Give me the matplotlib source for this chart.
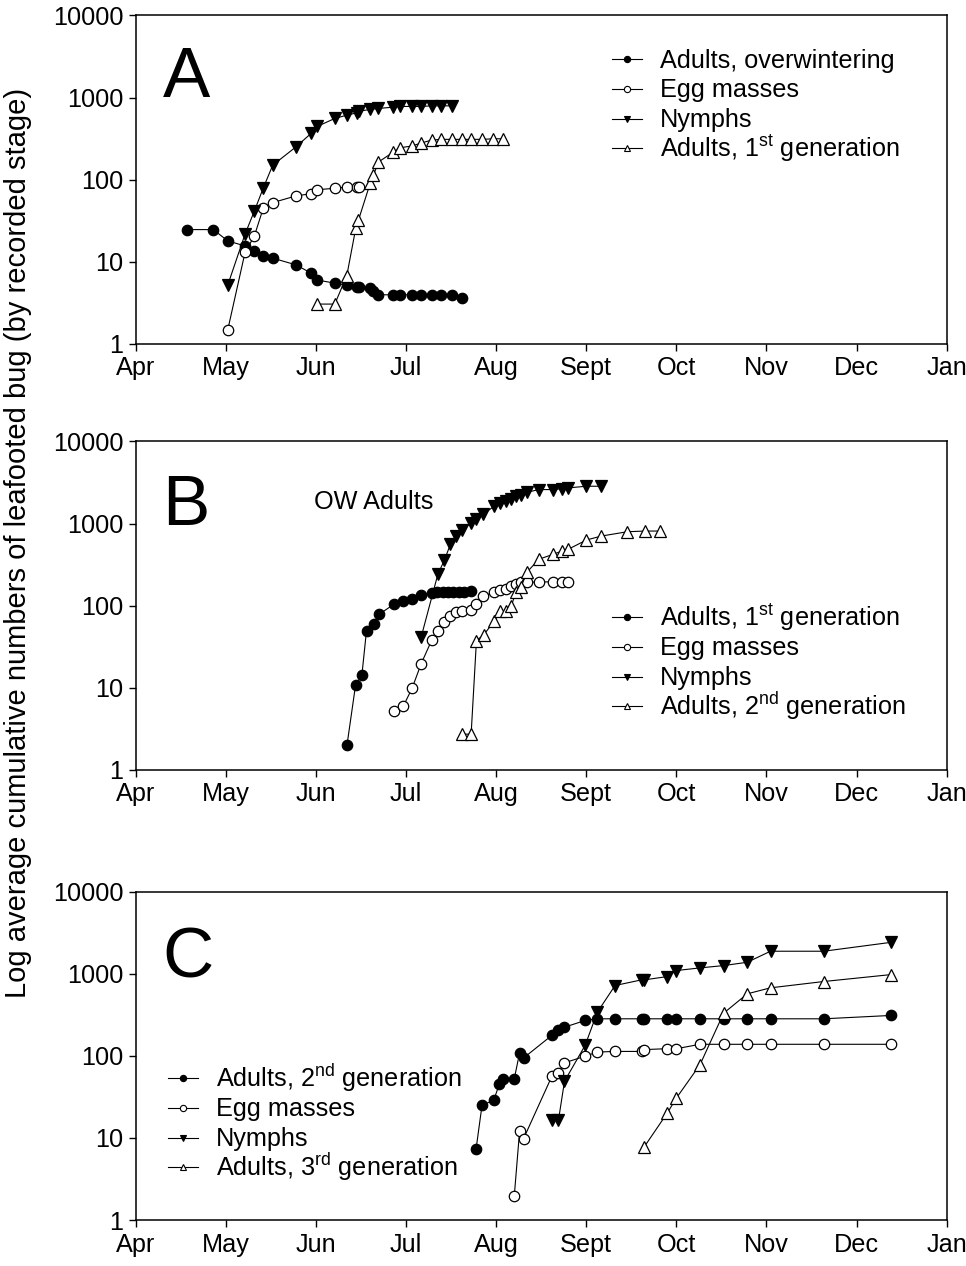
import matplotlib
matplotlib.use("Agg")
import matplotlib.pyplot as plt

plt.rcParams['font.family'] = ['Liberation Sans', 'DejaVu Sans']
plt.rcParams['mathtext.fontset'] = 'custom'
plt.rcParams['mathtext.rm'] = 'Liberation Sans'
plt.rcParams['mathtext.it'] = 'Liberation Sans:italic'

# x values are months (4 = Apr 1, 13 = Jan 1)
month_ticks = [4, 5, 6, 7, 8, 9, 10, 11, 12, 13]
month_labels = ['Apr', 'May', 'Jun', 'Jul', 'Aug', 'Sept', 'Oct', 'Nov', 'Dec', 'Jan']

# Panel A
a_adult_x = [4.567, 4.862, 5.022, 5.214, 5.318, 5.418, 5.521, 5.777, 5.947, 6.017, 6.210, 6.343, 6.454,
             6.483, 6.602, 6.631, 6.694, 6.860, 6.934, 7.064, 7.167, 7.286, 7.390, 7.515, 7.626]
a_adult_y = [24.7, 24.7, 18, 15.6, 13.6, 11.8, 11.1, 9.2, 7.3, 6.0, 5.5, 5.2, 5.0,
             5.0, 4.87, 4.36, 3.97, 3.97, 3.97, 3.97, 3.97, 3.97, 3.97, 3.97, 3.62]
a_egg_x = [5.022, 5.214, 5.318, 5.418, 5.521, 5.777, 5.947, 6.017, 6.210, 6.343, 6.454, 6.483]
a_egg_y = [1.48, 13, 20.7, 45.7, 52.6, 63.4, 67.6, 75.6, 78.6, 81.5, 81.5, 81.5]
a_nymph_x = [5.022, 5.214, 5.318, 5.418, 5.521, 5.777, 5.947, 6.017, 6.210, 6.343, 6.454,
             6.483, 6.602, 6.694, 6.860, 6.934, 7.064, 7.167, 7.286, 7.390, 7.515]
a_nymph_y = [5.2, 21.7, 41.7, 80, 150, 250, 366, 446, 557, 611, 652,
             684, 717, 737, 765, 780, 780, 780, 793, 793, 793]
a_gen_x = [6.017, 6.210, 6.343, 6.443, 6.472, 6.602, 6.639, 6.694, 6.860, 6.934,
           7.064, 7.167, 7.286, 7.390, 7.508, 7.619, 7.723, 7.841, 7.971, 8.082]
a_gen_y = [3.06, 3.06, 6.76, 25.7, 32, 90, 113, 164, 217, 245,
           257, 279, 304, 310, 310, 310, 310, 310, 315, 315]

# Panel B
b_adult_x = [6.345, 6.440, 6.511, 6.562, 6.646, 6.705, 6.871, 6.970, 7.069, 7.168, 7.287,
             7.347, 7.406, 7.465, 7.525, 7.584, 7.644, 7.723]
b_adult_y = [1.99, 10.7, 14.4, 49.8, 60, 79, 105, 115, 120, 135, 142,
             145, 145, 145, 148, 148, 148, 152]
b_egg_x = [6.871, 6.970, 7.069, 7.168, 7.287, 7.354, 7.426, 7.493, 7.556, 7.624, 7.723, 7.782,
           7.853, 7.980, 8.048, 8.111, 8.170, 8.218, 8.277, 8.345, 8.475, 8.634, 8.733, 8.800]
b_egg_y = [5.24, 5.97, 9.95, 19.6, 38.4, 48.9, 62.8, 74.3, 83, 85.4, 89.5, 105,
           130, 145, 156, 162, 175, 183, 192, 192, 195, 195, 195, 195]
b_nymph_x = [7.168, 7.354, 7.426, 7.493, 7.556, 7.624, 7.723, 7.782, 7.853, 7.980, 8.048,
             8.111, 8.170, 8.218, 8.277, 8.345, 8.475, 8.634, 8.733, 8.800, 9.002, 9.168]
b_nymph_y = [41.3, 242, 358, 559, 705, 826, 1023, 1124, 1291, 1630, 1790,
             1910, 2018, 2154, 2259, 2410, 2595, 2595, 2668, 2720, 2850, 2850]
b_gen_x = [7.624, 7.723, 7.782, 7.861, 7.980, 8.048, 8.111, 8.170, 8.218, 8.277,
           8.345, 8.475, 8.634, 8.733, 8.800, 9.002, 9.168, 9.457, 9.651, 9.822]
b_gen_y = [2.73, 2.73, 37.7, 44.1, 64.6, 85.4, 87, 100, 145, 170,
           258, 368, 423, 464, 486, 631, 705, 796, 811, 811]

# Panel C
c_adult_x = [7.778, 7.844, 7.973, 8.036, 8.073, 8.202, 8.261, 8.305, 8.618, 8.692, 8.759, 8.988,
             9.124, 9.320, 9.614, 9.644, 9.902, 10.001, 10.263, 10.525, 10.787, 11.045, 11.635, 12.387]
c_adult_y = [7.36, 25, 28.7, 45, 51.7, 52.6, 109, 94, 177, 204, 223, 269,
             282, 282, 282, 282, 282, 282, 282, 282, 282, 282, 282, 310]
c_egg_x = [8.202, 8.261, 8.305, 8.618, 8.692, 8.759, 8.988, 9.124, 9.320, 9.614, 9.644,
           9.902, 10.001, 10.263, 10.525, 10.787, 11.045, 11.635, 12.387]
c_egg_y = [1.98, 12.2, 9.8, 56, 62, 82, 99, 111, 113, 113, 119,
           122, 122, 138, 138, 138, 138, 138, 138]
c_nymph_x = [8.618, 8.692, 8.759, 8.988, 9.124, 9.320, 9.614, 9.644, 9.902, 10.001,
             10.263, 10.525, 10.787, 11.045, 11.635, 12.387]
c_nymph_y = [16.4, 16.4, 49, 134, 340, 717, 840, 840, 922, 1091,
             1175, 1254, 1376, 1875, 1875, 2409]
c_gen_x = [9.644, 9.902, 10.001, 10.263, 10.525, 10.787, 11.045, 11.635, 12.387]
c_gen_y = [7.78, 20.3, 30.6, 78, 330, 568, 672, 802, 975]

# legend anchor: (left of handle, centre of first row) in axes fractions
panels = [
    dict(letter='A', series=[(a_adult_x, a_adult_y), (a_egg_x, a_egg_y), (a_nymph_x, a_nymph_y), (a_gen_x, a_gen_y)],
         labels=['Adults, overwintering', 'Egg masses', 'Nymphs', r'Adults, 1$^{\rm st}$ generation'],
         legend_at=(0.5874, 0.867), letter_y=0.752),
    dict(letter='B', series=[(b_adult_x, b_adult_y), (b_egg_x, b_egg_y), (b_nymph_x, b_nymph_y), (b_gen_x, b_gen_y)],
         labels=[r'Adults, 1$^{\rm st}$ generation', 'Egg masses', 'Nymphs', r'Adults, 2$^{\rm nd}$ generation'],
         legend_at=(0.5874, 0.465), letter_y=0.745),
    dict(letter='C', series=[(c_adult_x, c_adult_y), (c_egg_x, c_egg_y), (c_nymph_x, c_nymph_y), (c_gen_x, c_gen_y)],
         labels=[r'Adults, 2$^{\rm nd}$ generation', 'Egg masses', 'Nymphs', r'Adults, 3$^{\rm rd}$ generation'],
         legend_at=(0.040, 0.432), letter_y=0.739),
]

styles = [
    dict(marker='o', mfc='black', ms=7.5),
    dict(marker='o', mfc='white', ms=7.5),
    dict(marker='v', mfc='black', ms=8),
    dict(marker='^', mfc='white', ms=8),
]

fig = plt.figure(figsize=(9.66, 12.66), dpi=100)
bottoms = [0.7283, 0.3918, 0.0363]
fs = 18.2
ax_w_px, ax_h_px = 811.0, 328.5

for p, bottom in zip(panels, bottoms):
    ax = fig.add_axes([0.1404, bottom, 0.8396, 0.2595])
    for (x, y), st in zip(p['series'], styles):
        ax.plot(x, y, color='black', lw=0.8, marker=st['marker'], ms=st['ms'],
                mfc=st['mfc'], mec='black', mew=0.9)
    ax.set_yscale('log')
    ax.set_ylim(1, 10000)
    ax.set_xlim(4, 13)
    ax.set_yticks([1, 10, 100, 1000, 10000])
    ax.set_yticklabels(['1', '10', '100', '1000', '10000'])
    ax.yaxis.set_minor_locator(plt.NullLocator())
    ax.set_xticks(month_ticks)
    ax.set_xticklabels(month_labels)
    ax.tick_params(direction='out', length=5, width=1, labelsize=fs, pad=4)
    for s in ax.spines.values():
        s.set_linewidth(1.1)

    # legend, rows spaced evenly
    lx, ly = p['legend_at']
    hw = 30 / ax_w_px
    for i, (st, lab) in enumerate(zip(styles, p['labels'])):
        yy = ly - i * 29.7 / ax_h_px
        ax.plot([lx, lx + hw], [yy, yy], transform=ax.transAxes, color='black', lw=0.8, clip_on=False)
        ax.plot([lx + hw / 2], [yy], transform=ax.transAxes, linestyle='none', marker=st['marker'],
                ms=4.5, mfc=st['mfc'], mec='black', mew=0.8, clip_on=False)
        ax.text(lx + 48 / ax_w_px, yy - 8.5 / ax_h_px, lab, transform=ax.transAxes,
                fontsize=fs, ha='left', va='baseline')

    ax.text(0.033, p['letter_y'], p['letter'], transform=ax.transAxes, fontsize=51,
            ha='left', va='baseline')
    if p['letter'] == 'B':
        ax.text(0.294, 0.815, 'OW Adults', transform=ax.transAxes, fontsize=fs,
                ha='center', va='center')

fig.text(0.019, 0.571, 'Log average cumulative numbers of leafooted bug (by recorded stage)',
         rotation=90, ha='center', va='center', fontsize=21)

fig.savefig('out.png', dpi=100)
